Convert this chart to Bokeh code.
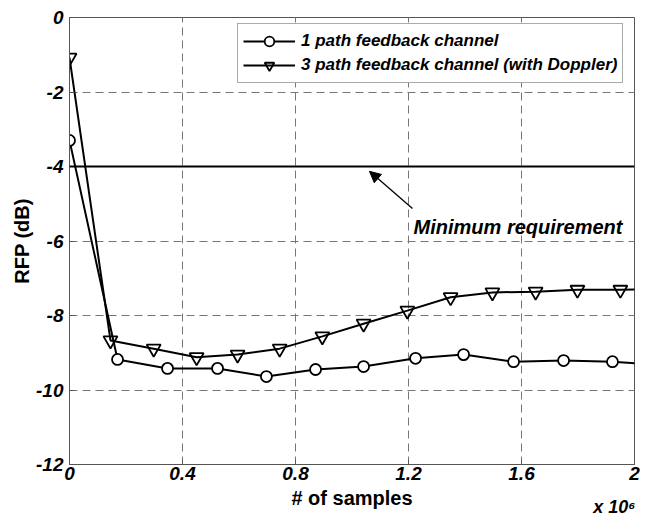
from bokeh.plotting import figure
from bokeh.models import (FixedTicker, Span, Arrow, NormalHead, Label, Legend,
                          LegendItem, Range1d, LinearAxis)
from bokeh.embed import file_html
from bokeh.resources import INLINE

# ---- data (x in units of 10^6 samples, y in dB) ----
one_path_x = [0, 0.17, 0.347, 0.524, 0.697, 0.871, 1.041, 1.225, 1.395, 1.572, 1.749, 1.922, 2.096]
one_path_y = [-3.30, -9.18, -9.42, -9.42, -9.64, -9.45, -9.37, -9.15, -9.05, -9.24, -9.21, -9.24, -9.33]

three_path_x = [0, 0.145, 0.298, 0.45, 0.595, 0.744, 0.895, 1.041, 1.196, 1.349, 1.497, 1.65, 1.798, 1.95, 2.1]
three_path_y = [-1.08, -8.67, -8.89, -9.12, -9.05, -8.89, -8.56, -8.22, -7.87, -7.51, -7.38, -7.36, -7.31, -7.31, -7.29]

series_labels = ["1 path feedback channel", "3 path feedback channel (with Doppler)"]

requirement_db = -4
annotation_text = "Minimum requirement"
arrow_tail = (1.214, -5.13)
arrow_head = (1.062, -4.13)
annotation_pos = (1.218, -5.62)

x_ticks = [0, 0.4, 0.8, 1.2, 1.6, 2.0]
x_tick_labels = ["0", "0.4", "0.8", "1.2", "1.6", "2"]
y_ticks = [0, -2, -4, -6, -8, -10, -12]
y_tick_labels = ["0", "-2", "-4", "-6", "-8", "-10", "-12"]
x_multiplier = "x 10\u2076"

FONT = "Liberation Sans"

p = figure(width=652, height=519, x_range=Range1d(0, 2), y_range=Range1d(-12, 0),
           output_backend="svg", toolbar_location=None,
           min_border_left=69, min_border_right=18, min_border_top=17, min_border_bottom=55,
           background_fill_color="white", border_fill_color="white")

p.outline_line_color = "#555555"
p.outline_line_width = 1

for ax in (p.xaxis[0], p.yaxis[0]):
    ax.major_label_text_font = FONT
    ax.major_label_text_font_style = "bold italic"
    ax.major_label_text_font_size = "19px"
    ax.major_label_text_color = "black"
    ax.axis_label_text_font = FONT
    ax.axis_label_text_font_style = "bold"
    ax.axis_label_text_font_size = "20px"
    ax.axis_label_text_color = "black"
    ax.axis_line_color = "#555555"
    ax.major_tick_line_color = "#555555"
    ax.major_tick_in = 5
    ax.major_tick_out = 0
    ax.minor_tick_line_color = None

p.xaxis.ticker = FixedTicker(ticks=x_ticks)
p.yaxis.ticker = FixedTicker(ticks=y_ticks)
p.xaxis.major_label_overrides = dict(zip(x_ticks, x_tick_labels))
p.yaxis.major_label_overrides = dict(zip(y_ticks, y_tick_labels))
p.xaxis.major_label_standoff = 2
p.yaxis.major_label_standoff = 6
p.xaxis.axis_label = "# of samples"
p.yaxis.axis_label = "RFP (dB)"
p.xaxis.axis_label_standoff = 4
p.yaxis.axis_label_standoff = 0

# second, label-only axis below carrying the "x 10^6" multiplier at the right end
# (label is centred on the axis end, so trailing no-break spaces shift it left)
mult_axis = LinearAxis(ticker=FixedTicker(ticks=[]), axis_label=x_multiplier + "\u00a0" * 8,
                       axis_label_align="end", axis_label_standoff=-15,
                       axis_label_text_font=FONT, axis_label_text_font_style="bold italic",
                       axis_label_text_font_size="18px", axis_label_text_color="black",
                       axis_line_color=None, major_tick_line_color=None,
                       minor_tick_line_color=None, major_label_text_font_size="0px")
p.add_layout(mult_axis, "below")

p.grid.grid_line_color = "#777777"
p.grid.grid_line_dash = "8 5"
p.grid.grid_line_width = 1

# minimum requirement line
p.add_layout(Span(location=requirement_db, dimension="width", line_color="black", line_width=2.2))

# series
l1 = p.line(one_path_x, one_path_y, line_color="black", line_width=2)
s1 = p.scatter(one_path_x, one_path_y, marker="circle", size=11, line_color="black",
               line_width=1.8, fill_color="white")
l2 = p.line(three_path_x, three_path_y, line_color="black", line_width=2)
s2 = p.scatter(three_path_x, three_path_y, marker="inverted_triangle", size=14,
               line_color="black", line_width=1.8, fill_alpha=0)

# annotation
p.add_layout(Arrow(end=NormalHead(size=11, fill_color="black", line_color="black"),
                   x_start=arrow_tail[0], y_start=arrow_tail[1],
                   x_end=arrow_head[0], y_end=arrow_head[1],
                   line_color="black", line_width=1.3))
p.add_layout(Label(x=annotation_pos[0], y=annotation_pos[1], text=annotation_text,
                   text_font=FONT, text_font_style="bold italic", text_font_size="20px",
                   text_color="black", text_baseline="alphabetic"))

legend = Legend(items=[LegendItem(label=series_labels[0], renderers=[l1, s1]),
                       LegendItem(label=series_labels[1], renderers=[l2, s2])],
                location=(168, 381), margin=0, padding=5, spacing=0,
                glyph_width=52, glyph_height=24, label_height=24, label_standoff=6,
                label_text_font=FONT, label_text_font_style="bold italic",
                label_text_font_size="17px", label_text_color="black",
                border_line_color="#555555", border_line_width=1,
                background_fill_color="white", background_fill_alpha=1)
p.add_layout(legend)

open("out.html", "w").write(file_html(p, INLINE))
